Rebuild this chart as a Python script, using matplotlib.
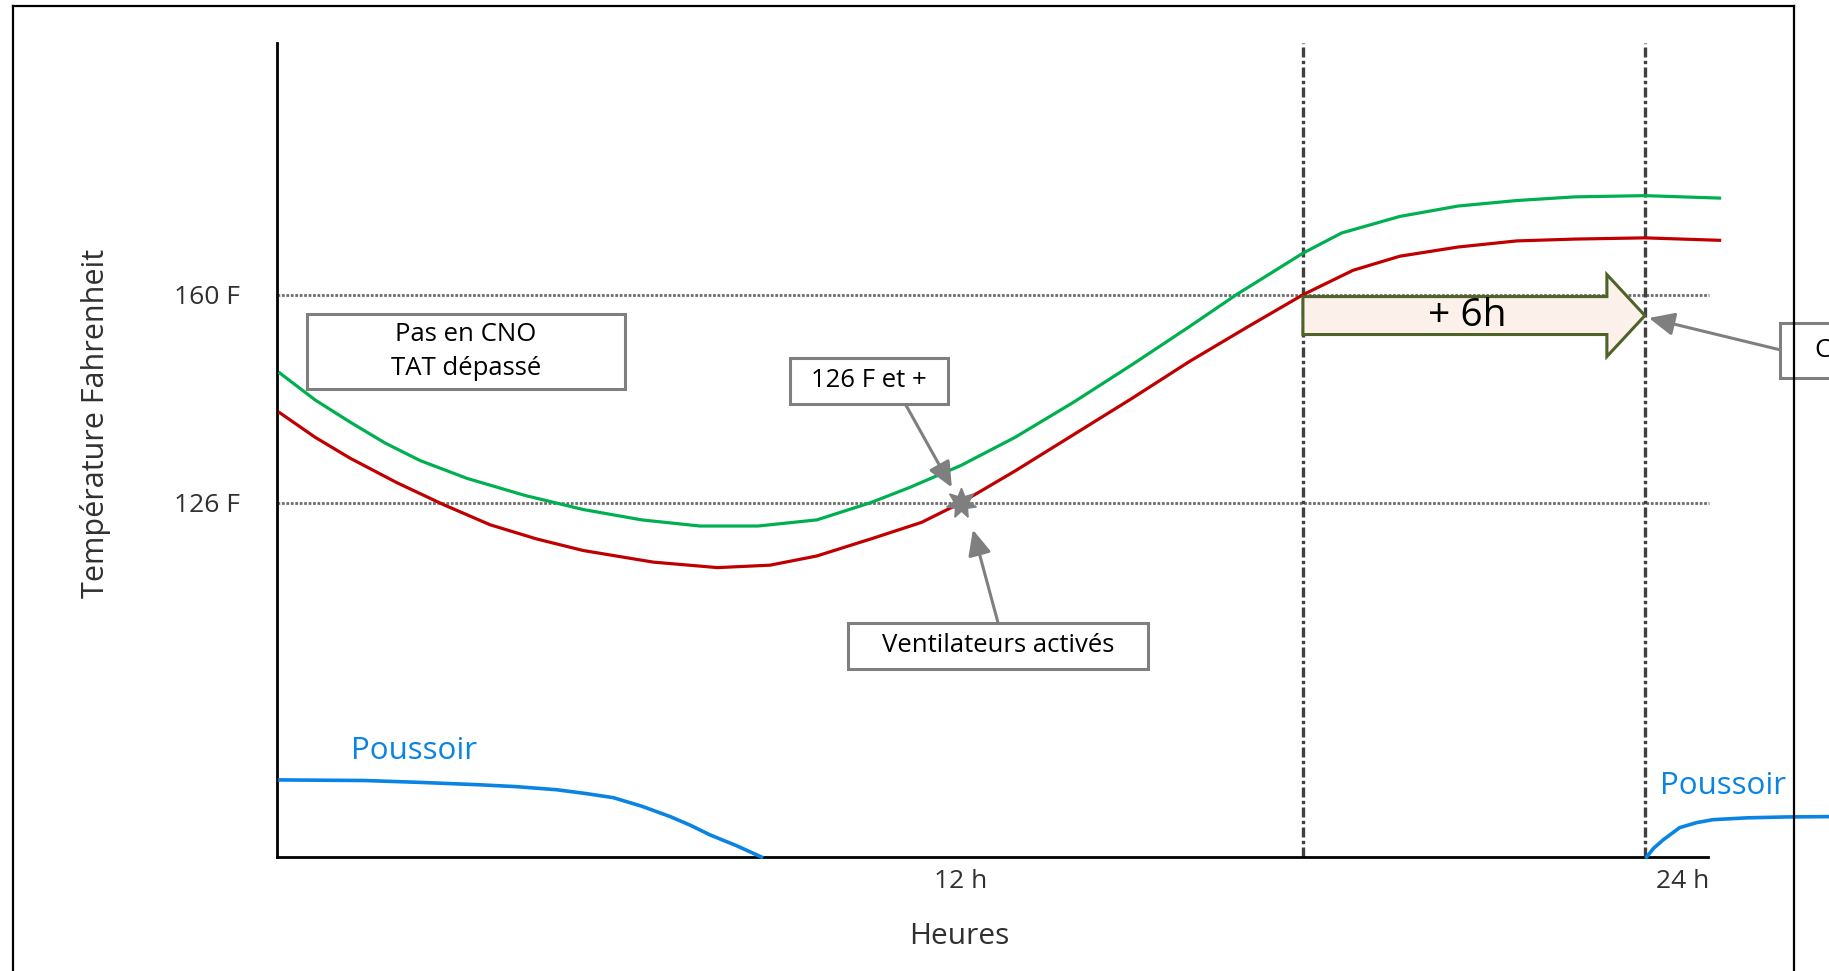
import matplotlib
matplotlib.use("Agg")
import matplotlib.pyplot as plt
from matplotlib.patches import Rectangle, FancyArrow
from matplotlib.lines import Line2D
from matplotlib.transforms import ScaledTranslation

plt.rcParams['font.family'] = ['Open Sans', 'DejaVu Sans']

# Température mesurée (heures, degrés F)
green_hours = [0.05, 0.67, 1.28, 1.89, 2.51, 3.33, 4.35, 5.37, 6.40, 7.42, 8.44, 9.47,
               10.41, 11.10, 12.0, 12.95, 13.97, 14.99, 16.01, 16.83, 17.45, 18.0,
               18.68, 19.70, 20.72, 21.75, 22.77, 24.0, 25.31]
green_temp = [147.2, 142.8, 139.2, 135.8, 132.9, 130.0, 127.2, 124.9, 123.2, 122.2,
              122.2, 123.2, 126.0, 128.5, 132.1, 136.7, 142.4, 148.5, 154.8, 160.0,
              163.6, 166.8, 170.1, 172.8, 174.5, 175.4, 176.0, 176.2, 175.8]

red_hours = [0.05, 0.67, 1.28, 2.10, 2.92, 3.74, 4.55, 5.37, 6.60, 7.73, 8.65, 9.47,
             10.49, 11.31, 12.0, 12.95, 13.97, 14.99, 16.01, 17.04, 18.0, 18.88,
             19.70, 20.72, 21.75, 22.77, 24.0, 25.31]
red_temp = [140.7, 136.7, 133.3, 129.3, 125.7, 122.4, 120.1, 118.2, 116.3, 115.4,
            115.8, 117.3, 120.3, 122.8, 126.0, 131.2, 137.1, 143.0, 149.1, 154.8,
            160.0, 164.0, 166.3, 167.8, 168.8, 169.1, 169.3, 168.9]

# Poussoir (même échelle verticale)
pusher_hours_a = [0.05, 1.54, 2.5, 3.56, 4.2, 4.9, 5.4, 5.9, 6.4, 6.9, 7.25, 7.6, 8.05, 8.5]
pusher_level_a = [80.7, 80.6, 80.3, 79.9, 79.6, 79.1, 78.5, 77.8, 76.4, 74.7, 73.3, 71.7,
                  70.0, 68.1]
pusher_hours_b = [24.03, 24.15, 24.32, 24.61, 24.9, 25.19, 25.79, 26.5, 27.23]
pusher_level_b = [68.1, 69.5, 70.9, 72.9, 73.7, 74.2, 74.5, 74.65, 74.7]

threshold_temps = [126, 160]
threshold_labels = ['126 F', '160 F']
hour_ticks = [12, 24]
hour_labels = ['12 h', '24 h']
marker_hours = [18, 24]
fan_on = (12, 126)
delay = (18, 24)
delay_label = '+ 6h'

GREEN = '#00B050'
RED = '#C00000'
BLUE = '#0A84E3'
GREY = '#7F7F7F'
TEXT = '#303030'

fig = plt.figure(figsize=(18.29, 9.71), dpi=100)
ax = fig.add_axes([277 / 1829, 114 / 971, 1552 / 1829, 814 / 971])
ymin, ymax = 68.1, 201.15
ax.set_xlim(0, 27.23)
ax.set_ylim(ymin, ymax)

for side in ['top', 'right']:
    ax.spines[side].set_visible(False)
ax.spines['left'].set_linewidth(2)
ax.spines['bottom'].set_linewidth(2)
ax.spines['bottom'].set_bounds(0, 25.1)

ax.set_xticks(hour_ticks, hour_labels)
ax.set_yticks(threshold_temps, threshold_labels)
ax.tick_params(axis='x', length=0, pad=8.5, labelsize=19, labelcolor=TEXT)
ax.tick_params(axis='y', length=0, pad=27, labelsize=19, labelcolor=TEXT)
lbl = ax.xaxis.get_major_ticks()[1].label1
lbl.set_transform(lbl.get_transform() + ScaledTranslation(0.38, 0, fig.dpi_scale_trans))

ax.set_xlabel('Heures', fontsize=21.5, color=TEXT)
ax.xaxis.set_label_coords((959 - 277) / 1552, (857 - 922) / 814)
ax.set_ylabel('Température Fahrenheit', fontsize=22, color=TEXT)
ax.yaxis.set_label_coords((111 - 277) / 1552, 0.533)

# seuils et repères horaires
ax.hlines(threshold_temps, 0, 25.12, colors='#6E6E6E', linestyles=(0, (1, 0.6)), lw=2, zorder=1)
ax.vlines(marker_hours, ymin, ymax, colors='#404040', linestyles=(0, (3, 1, 1, 1)), lw=2.4, zorder=1)

ax.plot(green_hours, green_temp, color=GREEN, lw=2.3, zorder=3)
ax.plot(red_hours, red_temp, color=RED, lw=2.3, zorder=3)
ax.plot(pusher_hours_a, pusher_level_a, color=BLUE, lw=2.6, zorder=3, clip_on=False)
ax.plot(pusher_hours_b, pusher_level_b, color=BLUE, lw=2.6, zorder=3, clip_on=False)
ax.text(2.4, 85.4, 'Poussoir', color=BLUE, fontsize=22.5, ha='center', va='center')
ax.text(25.37, 79.7, 'Poussoir', color=BLUE, fontsize=22.5, ha='center', va='center')

ax.plot(*fan_on, marker=(7, 1, 0), ms=22, color=GREY, zorder=5)

# flèche de délai
mid = 156.6
ax.add_patch(FancyArrow(delay[0], mid, delay[1] - delay[0], 0, width=6.2, head_width=13.4,
                        head_length=0.667, length_includes_head=True,
                        fc='#FBF1EA', ec='#4F6228', lw=2.2, zorder=4))
ax.text(20.88, mid, delay_label, fontsize=28, ha='center', va='center', zorder=5)

# encadrés
boxes = [
    (0.53, 144.6, 6.1, 156.9, 'Pas en CNO\nTAT dépassé', 'center'),
    (9.0, 142.2, 11.77, 149.7, '126 F et +', 'center'),
    (10.02, 98.9, 15.28, 106.4, 'Ventilateurs activés', 'center'),
    (26.37, 146.4, 28.5, 155.4, 'C', 'left'),
]
for x0, y0, x1, y1, txt, ha in boxes:
    ax.add_patch(Rectangle((x0, y0), x1 - x0, y1 - y0, fc='white', ec=GREY, lw=2.2,
                           zorder=6, clip_on=False))
    tx = (x0 + x1) / 2 if ha == 'center' else x0 + 0.6
    ax.text(tx, (y0 + y1) / 2, txt, fontsize=18.5, ha=ha, va='center', zorder=7,
            linespacing=1.45)

arrows = [
    ((11.02, 142.2), (11.84, 128.5)),
    ((12.65, 106.4), (12.21, 121.6)),
    ((26.37, 151.0), (24.07, 156.2)),
]
for start, tip in arrows:
    ax.annotate('', xy=tip, xytext=start, zorder=5,
                arrowprops=dict(arrowstyle='-|>,head_length=0.55,head_width=0.25',
                                mutation_scale=28, lw=2.2, color=GREY,
                                shrinkA=0, shrinkB=0))

# cadre
for xs, ys in [([13, 13], [0, 965]), ([13, 1794], [965, 965]), ([1794, 1794], [0, 965])]:
    fig.add_artist(Line2D([x / 1829 for x in xs], [y / 971 for y in ys],
                          transform=fig.transFigure, color='black', lw=1.6, zorder=10))

fig.savefig('out.png', dpi=100)
